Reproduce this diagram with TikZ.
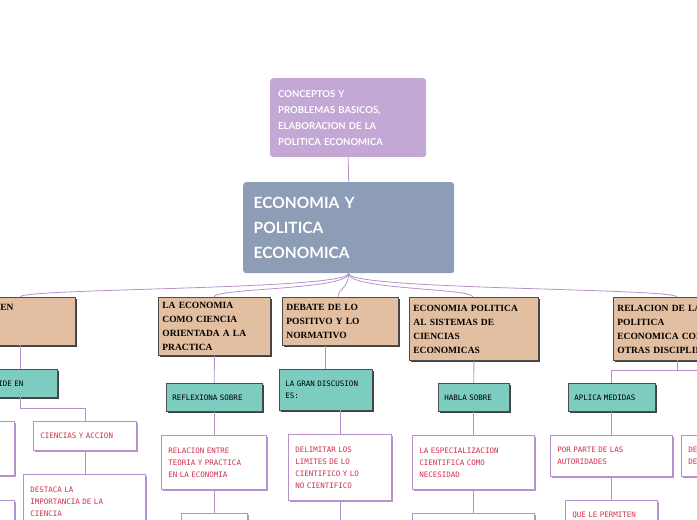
\documentclass[tikz,border=0pt]{standalone}
\usepackage{fontspec}
\usetikzlibrary{shadows}
\setmainfont{Liberation Serif}
\newfontfamily\lato{Lato}
\newfontfamily\mono{DejaVu Sans Mono}
\definecolor{tan}{HTML}{E2BFA0}
\definecolor{teal}{HTML}{7CCDC0}
\definecolor{lila}{HTML}{C3A8D5}
\definecolor{slate}{HTML}{8D9DB5}
\definecolor{wire}{HTML}{B592CF}
\definecolor{redt}{HTML}{D0304A}
\begin{document}
\begin{tikzpicture}[x=1pt,y=-1pt,
 tanbox/.style={draw=black!70,fill=tan,line width=0.8pt,drop shadow={shadow xshift=2pt,shadow yshift=-2pt,fill=black!75,opacity=1},minimum height=#1,anchor=north west,align=left,font=\bfseries\fontsize{9.5}{14}\selectfont,inner sep=4pt},
 tealbox/.style={draw=black!70,fill=teal,line width=0.6pt,drop shadow={shadow xshift=2pt,shadow yshift=-2pt,fill=black!75,opacity=1},minimum height=28pt,anchor=north west,align=left,font=\mono\fontsize{7.5}{12}\selectfont,inner sep=6pt},
 wbox/.style={draw=wire,fill=white,line width=0.6pt,drop shadow={shadow xshift=2pt,shadow yshift=-2pt,fill=wire,opacity=1},anchor=north west,align=left,text=redt,font=\mono\fontsize{7.5}{12}\selectfont,inner sep=7pt},
 wire/.style={draw=wire,line width=0.8pt}]
\useasboundingbox (0,0) rectangle (697,520);
\clip (0,0) rectangle (697,520);
\node[fill=lila,rounded corners=3pt,text=white,anchor=north west,minimum width=156pt,minimum height=79pt,align=left,text width=140pt,font=\lato\bfseries\fontsize{9.5}{16}\selectfont] (top) at (270,78) {CONCEPTOS Y\\PROBLEMAS BASICOS,\\ELABORACION DE LA\\POLITICA ECONOMICA};
\node[fill=slate,rounded corners=3pt,text=white,anchor=north west,minimum width=211pt,minimum height=91pt,align=left,text width=190pt,font=\lato\bfseries\fontsize{15.5}{25}\selectfont] (main) at (243,182) {ECONOMIA Y\\POLITICA\\ECONOMICA};
\draw[wire] (top.south) -- (main.north);
% level 1
\node[tanbox=48pt,text width=155pt] (a) at (-88,297) {CIENCIA SOCIAL EN\\RELACION A LA\\CIENCIA};
\node[tanbox=58pt,text width=104pt] (b) at (158,297) {LA ECONOMIA\\COMO CIENCIA\\ORIENTADA A LA\\PRACTICA};
\node[tanbox=48pt,text width=108pt] (c) at (282,297) {DEBATE DE LO\\POSITIVO Y LO\\NORMATIVO};
\node[tanbox=63pt,text width=121pt] (d) at (409,297) {ECONOMIA POLITICA\\AL SISTEMAS DE\\CIENCIAS\\ECONOMICAS};
\node[tanbox=63pt,text width=142pt] (e) at (613,297) {RELACION DE LA\\POLITICA\\ECONOMICA CON\\OTRAS DISCIPLINAS};
\foreach \n/\x in {a/20,b/214,c/338,d/473,e/677}
  \draw[wire] (main.south) .. controls (348,290) and (\x,288) .. (\x,297);
% level 2
\node[tealbox,text width=78pt] (a1) at (-33,369) {SE DIVIDE EN};
\node[tealbox,text width=84pt] (b1) at (166,383) {REFLEXIONA SOBRE};
\node[tealbox,text width=81pt,minimum height=41pt] (c1) at (279,369) {LA GRAN DISCUSION\\ES:};
\node[tealbox,text width=59pt] (d1) at (438,383) {HABLA SOBRE};
\node[tealbox,text width=75pt] (e1) at (568,383) {APLICA MEDIDAS};
\draw[wire] (20,345) -- (20,369);
\draw[wire] (b.south) -- (b1.north);
\draw[wire] (c.south -| c1.north) -- (c1.north);
\draw[wire] (d.south) -- (d1.north);
\draw[wire] (677,360) -- (677,370) -| (e1.north);
\draw[wire] (677,370) -- (697,370);
% level 3
\node[wbox,text width=89pt,minimum height=29pt] (a2) at (33,421) {CIENCIAS Y ACCION};
\node[wbox,minimum width=70pt,minimum height=54pt] (a3) at (-56,421) {};
\node[wbox,minimum width=70pt,minimum height=40pt] (a4) at (-56,500) {};
\node[wbox,text width=108pt,minimum height=54pt] (a5) at (23,474) {DESTACA LA\\IMPORTANCIA DE LA\\CIENCIA};
\draw[wire] (20,397) -- (20,408) -- (85,408) -- (a2.north -| 85,0);
\draw[wire] (85,450) -- (85,474);
\node[wbox,text width=91pt,minimum height=54pt] (b2) at (161,435) {RELACION ENTRE\\TEORIA Y PRACTICA\\EN LA ECONOMIA};
\node[wbox,minimum width=66pt,minimum height=20pt] (b3) at (181,513) {};
\draw[wire] (b1.south) -- (b2.north -| b1.south);
\draw[wire] (b2.south -| 214,0) -- (214,513);
\node[wbox,text width=89pt,minimum height=66pt] (c2) at (288,434) {DELIMITAR LOS\\LIMITES DE LO\\CIENTIFICO Y LO\\NO CIENTIFICO};
\draw[wire] (340,410) -- (340,434);
\draw[wire] (340,500) -- (340,520);
\node[wbox,text width=108pt,minimum height=54pt] (d2) at (412,435) {LA ESPECIALIZACION\\CIENTIFICA COMO\\NECESIDAD};
\node[wbox,minimum width=122pt,minimum height=20pt] (d3) at (412,513) {};
\draw[wire] (d1.south) -- (d1.south |- d2.north);
\draw[wire] (d1.south |- d2.south) -- (d1.south |- d3.north);
\node[wbox,text width=108pt,minimum height=41pt] (e2) at (550,435) {POR PARTE DE LAS\\AUTORIDADES};
\node[wbox,text width=78pt,minimum height=30pt] (e3) at (565,500) {QUE LE PERMITEN};
\node[wbox,text width=46pt,minimum height=41pt] (e4) at (681,435) {DE\\DE};
\draw[wire] (e1.south) -- (e1.south |- e2.north);
\draw[wire] (e1.south |- e2.south) -- (e1.south |- e3.north);
\end{tikzpicture}
\end{document}
